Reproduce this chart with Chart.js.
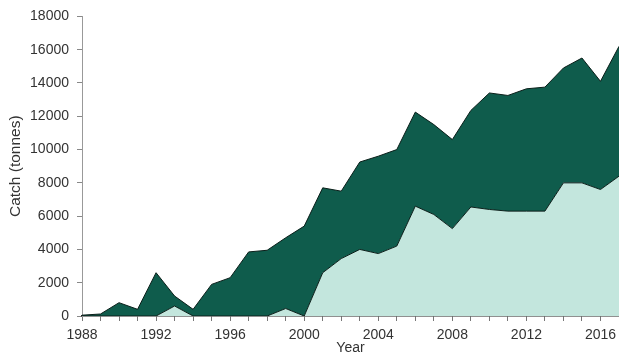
<!DOCTYPE html>
<html>
<head>
<meta charset="utf-8">
<script src="https://cdn.jsdelivr.net/npm/chart.js"></script>
<style>
  html, body { margin: 0; padding: 0; background: #ffffff; }
  #wrap { width: 619px; height: 363px; }
</style>
</head>
<body>
<div id="wrap"><canvas id="c" width="619" height="363"></canvas></div>
<script>
const years = ['1988','1989','1990','1991','1992','1993','1994','1995','1996','1997',
               '1998','1999','2000','2001','2002','2003','2004','2005','2006','2007',
               '2008','2009','2010','2011','2012','2013','2014','2015','2016','2017'];
// Lower (light) component, tonnes
const lightSeries = [0, 0, 0, 0, 0, 600, 0, 0, 0, 0,
                     0, 450, 0, 2600, 3450, 4000, 3750, 4200, 6600, 6100,
                     5250, 6550, 6400, 6300, 6300, 6300, 8000, 8000, 7600, 8400];
// Upper (dark) component stacked on top, tonnes
const darkSeries = [50, 120, 800, 400, 2600, 600, 400, 1900, 2300, 3850,
                    3950, 4250, 5400, 5100, 4050, 5250, 5850, 5800, 5650, 5400,
                    5350, 5800, 7000, 6950, 7350, 7450, 6900, 7500, 6500, 7800];
const xTickLabels = ['1988','1992','1996','2000','2004','2008','2012','2016'];
const yTickValues = [0, 2000, 4000, 6000, 8000, 10000, 12000, 14000, 16000, 18000];

const FONT = '"Liberation Sans", Arial, sans-serif';

new Chart(document.getElementById('c'), {
  type: 'line',
  data: {
    labels: years,
    datasets: [
      {
        label: 'light',
        data: lightSeries,
        backgroundColor: '#c3e6dd',
        borderColor: '#0b1f1a',
        borderWidth: 1,
        fill: 'origin',
        pointRadius: 0,
        tension: 0
      },
      {
        label: 'dark',
        data: darkSeries,
        backgroundColor: '#0f5c4c',
        borderColor: '#0b1f1a',
        borderWidth: 1,
        fill: '-1',
        pointRadius: 0,
        tension: 0
      }
    ]
  },
  options: {
    responsive: false,
    animation: false,
    layout: { padding: { top: 16, right: -4, bottom: 0, left: 0 } },
    plugins: { legend: { display: false }, tooltip: { enabled: false } },
    scales: {
      x: {
        type: 'category',
        offset: false,
        afterFit: s => { s.height = 47; s.paddingRight = 0; },
        grid: { display: true, drawOnChartArea: false, drawTicks: true, tickLength: 5, color: '#777' },
        border: { display: true, color: '#222', width: 1.5 },
        ticks: {
          autoSkip: false, maxRotation: 0, minRotation: 0, padding: 6,
          color: '#333', font: { family: FONT, size: 14 },
          callback: function(v, i) { const l = this.getLabelForValue(v); return xTickLabels.includes(l) ? l : ''; }
        },
        title: { display: true, text: 'Year', color: '#333', font: { family: FONT, size: 14 }, padding: { top: 0, bottom: 6 } }
      },
      y: {
        stacked: true,
        min: 0, max: 18000,
        afterFit: s => { s.width = 82; },
        afterBuildTicks: s => { s.ticks = yTickValues.map(v => ({ value: v })); },
        grid: { display: true, drawOnChartArea: false, drawTicks: true, tickLength: 5, color: '#888' },
        border: { display: true, color: '#999', width: 1 },
        ticks: {
          padding: 8, color: '#333', font: { family: FONT, size: 14 },
          callback: v => String(v)
        },
        title: { display: true, text: 'Catch (tonnes)', color: '#333', font: { family: FONT, size: 15.5 }, padding: { top: 6, bottom: 0 } }
      }
    }
  }
});
</script>
</body>
</html>
